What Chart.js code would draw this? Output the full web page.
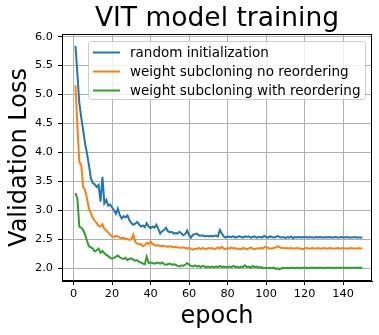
<!DOCTYPE html>
<html>
<head>
<meta charset="utf-8">
<script src="https://cdn.jsdelivr.net/npm/chart.js@4/dist/chart.umd.min.js"></script>
<style>
  html, body { margin: 0; padding: 0; background: #fff; }
</style>
</head>
<body>
<canvas id="chart" width="379" height="335"></canvas>
<script>
// Epoch numbers 1..150 (x categories)
function getEpochs(n) {
    const out = [];
    for (let i = 1; i <= n; i++) out.push(i);
    return out;
}
const epochs = getEpochs(150);

// Validation loss per epoch
const randomInit = [
    5.84, 5.35, 4.85, 4.60, 4.38, 4.15, 3.98, 3.78, 3.55, 3.47,
    3.45, 3.40, 3.44, 3.15, 3.58, 3.12, 3.18, 3.08, 3.10, 3.05,
    3.00, 2.94, 3.03, 2.92, 2.86, 2.90, 2.88, 2.91, 2.83, 2.78,
    2.75, 2.77, 2.80, 2.76, 2.72, 2.74, 2.71, 2.78, 2.72, 2.69,
    2.72, 2.70, 2.75, 2.68, 2.60, 2.64, 2.66, 2.70, 2.64, 2.62,
    2.63, 2.60, 2.61, 2.60, 2.63, 2.60, 2.57, 2.59, 2.65, 2.57,
    2.53, 2.58, 2.59, 2.60, 2.57, 2.56, 2.57, 2.55, 2.56, 2.55,
    2.56, 2.55, 2.56, 2.56, 2.55, 2.66, 2.60, 2.55, 2.53, 2.55,
    2.54, 2.54, 2.55, 2.53, 2.54, 2.55, 2.54, 2.53, 2.55, 2.54,
    2.55, 2.53, 2.54, 2.55, 2.53, 2.54, 2.54, 2.53, 2.56, 2.54,
    2.53, 2.55, 2.54, 2.53, 2.54, 2.56, 2.54, 2.53, 2.54, 2.52,
    2.54, 2.53, 2.55, 2.52, 2.54, 2.53, 2.54, 2.53, 2.54, 2.53,
    2.54, 2.53, 2.54, 2.53, 2.53, 2.54, 2.53, 2.54, 2.53, 2.53,
    2.54, 2.53, 2.54, 2.53, 2.53, 2.54, 2.53, 2.53, 2.54, 2.53,
    2.53, 2.54, 2.53, 2.53, 2.53, 2.54, 2.53, 2.53, 2.53, 2.53
];
const noReorder = [
    5.16, 4.45, 3.84, 3.78, 3.40, 3.35, 3.20, 3.03, 2.95, 2.87,
    2.82, 2.78, 2.73, 2.72, 2.76, 2.68, 2.65, 2.62, 2.58, 2.55,
    2.54, 2.56, 2.55, 2.53, 2.52, 2.53, 2.50, 2.51, 2.49, 2.50,
    2.58, 2.46, 2.43, 2.41, 2.42, 2.38, 2.40, 2.44, 2.42, 2.46,
    2.42, 2.40, 2.39, 2.40, 2.38, 2.39, 2.38, 2.38, 2.37, 2.38,
    2.37, 2.36, 2.37, 2.36, 2.36, 2.35, 2.36, 2.35, 2.34, 2.36,
    2.33, 2.32, 2.34, 2.33, 2.35, 2.33, 2.35, 2.34, 2.33, 2.35,
    2.34, 2.35, 2.33, 2.34, 2.36, 2.34, 2.37, 2.34, 2.33, 2.35,
    2.34, 2.36, 2.34, 2.35, 2.33, 2.34, 2.33, 2.35, 2.34, 2.33,
    2.34, 2.36, 2.34, 2.33, 2.34, 2.34, 2.35, 2.34, 2.36, 2.37,
    2.35, 2.34, 2.34, 2.35, 2.36, 2.38, 2.36, 2.35, 2.35, 2.34,
    2.35, 2.34, 2.35, 2.34, 2.34, 2.35, 2.34, 2.34, 2.33, 2.34,
    2.35, 2.34, 2.34, 2.35, 2.34, 2.34, 2.35, 2.34, 2.34, 2.35,
    2.34, 2.34, 2.35, 2.34, 2.34, 2.34, 2.35, 2.34, 2.34, 2.35,
    2.34, 2.34, 2.34, 2.35, 2.34, 2.34, 2.34, 2.35, 2.34, 2.34
];
const withReorder = [
    3.30, 3.20, 2.72, 2.70, 2.66, 2.58, 2.47, 2.38, 2.36, 2.34,
    2.29, 2.31, 2.34, 2.27, 2.30, 2.26, 2.23, 2.21, 2.18, 2.17,
    2.18, 2.20, 2.22, 2.19, 2.17, 2.16, 2.18, 2.14, 2.16, 2.17,
    2.15, 2.13, 2.14, 2.11, 2.10, 2.08, 2.07, 2.20, 2.09, 2.10,
    2.09, 2.08, 2.09, 2.10, 2.08, 2.10, 2.07, 2.06, 2.07, 2.08,
    2.06, 2.07, 2.06, 2.04, 2.03, 2.05, 2.04, 2.06, 2.09, 2.06,
    2.04, 2.03, 2.05, 2.03, 2.04, 2.02, 2.04, 2.03, 2.02, 2.03,
    2.02, 2.03, 2.02, 2.03, 2.02, 2.04, 2.02, 2.03, 2.02, 2.02,
    2.03, 2.02, 2.04, 2.02, 2.03, 2.01, 2.03, 2.02, 2.05, 2.02,
    2.03, 2.01, 2.04, 2.02, 2.03, 2.01, 2.02, 2.01, 2.00, 2.01,
    2.00, 2.01, 2.00, 2.01, 1.99, 2.00, 1.98, 2.00, 2.01, 2.00,
    2.01, 2.00, 2.01, 2.01, 2.00, 2.01, 2.01, 2.00, 2.01, 2.01,
    2.01, 2.00, 2.01, 2.01, 2.01, 2.00, 2.01, 2.01, 2.01, 2.00,
    2.01, 2.01, 2.01, 2.01, 2.00, 2.01, 2.01, 2.01, 2.01, 2.01,
    2.01, 2.01, 2.00, 2.01, 2.01, 2.01, 2.01, 2.01, 2.01, 2.01
];

// Tick values
const xTicks = [0, 20, 40, 60, 80, 100, 120, 140];
const yTicks = [2.0, 2.5, 3.0, 3.5, 4.0, 4.5, 5.0, 5.5, 6.0];

const seriesNames = [
    'random initialization',
    'weight subcloning no reordering',
    'weight subcloning with reordering'
];
const seriesColors = ['#1f77b4', '#ff7f0e', '#2ca02c'];
const seriesValues = [randomInit, noReorder, withReorder];

const FONT = "'DejaVu Sans', sans-serif";

// Draw the top/right spines and the boxed legend in the upper right
const frameAndLegend = {
    id: 'frameAndLegend',
    afterDatasetsDraw(chart) {
        const { ctx, chartArea: a } = chart;
        ctx.save();

        // legend
        const boxRight = a.right - 7, boxTop = a.top + 7;
        const boxW = 277, boxH = 58;
        const boxLeft = boxRight - boxW;
        ctx.beginPath();
        if (ctx.roundRect) ctx.roundRect(boxLeft + 0.5, boxTop + 0.5, boxW, boxH, 3);
        else ctx.rect(boxLeft + 0.5, boxTop + 0.5, boxW, boxH);
        ctx.fillStyle = 'rgba(255,255,255,0.8)';
        ctx.fill();
        ctx.strokeStyle = '#cccccc';
        ctx.lineWidth = 1;
        ctx.stroke();

        ctx.font = '13.5px ' + FONT;
        ctx.textBaseline = 'middle';
        ctx.textAlign = 'left';
        chart.data.datasets.forEach((ds, i) => {
            const y = boxTop + 11.5 + i * 19;
            ctx.strokeStyle = ds.borderColor;
            ctx.lineWidth = 2;
            ctx.beginPath();
            ctx.moveTo(boxLeft + 5, y);
            ctx.lineTo(boxLeft + 32, y);
            ctx.stroke();
            ctx.fillStyle = '#000';
            ctx.fillText(ds.label, boxLeft + 42, y + 1);
        });

        // spines
        ctx.strokeStyle = '#000';
        ctx.lineWidth = 1;
        ctx.strokeRect(Math.round(a.left) + 0.5, Math.round(a.top) + 0.5,
            Math.round(a.right - a.left) - 1, Math.round(a.bottom - a.top) - 1);
        ctx.restore();
    }
};

const ctx = document.getElementById('chart').getContext('2d');
new Chart(ctx, {
    type: 'line',
    data: {
        datasets: seriesValues.map((vals, i) => ({
            label: seriesNames[i],
            data: epochs.map((e, j) => ({ x: e, y: vals[j] })),
            borderColor: seriesColors[i],
            backgroundColor: seriesColors[i],
            borderWidth: 2,
            pointRadius: 0,
            tension: 0,
            fill: false
        }))
    },
    options: {
        responsive: false,
        animation: false,
        devicePixelRatio: 1,
        layout: { padding: { top: 0, left: 0, right: 7, bottom: 0 } },
        plugins: {
            legend: { display: false },
            tooltip: { enabled: false },
            title: {
                display: true,
                text: 'VIT model training',
                fullSize: false,
                color: '#000',
                font: { family: FONT, size: 26.5, weight: 'normal', lineHeight: '30px' },
                padding: { top: 4, bottom: 0 }
            }
        },
        scales: {
            x: {
                type: 'linear',
                min: -6,
                max: 155,
                afterBuildTicks: axis => { axis.ticks = xTicks.map(v => ({ value: v })); },
                afterFit: axis => { axis.height = 54; },
                grid: { color: '#b0b0b0', lineWidth: 1, tickColor: '#000', tickLength: 4 },
                border: { color: '#000' },
                ticks: { color: '#000', font: { family: FONT, size: 11.3 }, padding: 2, maxRotation: 0 },
                title: {
                    display: true, text: 'epoch', color: '#000',
                    font: { family: FONT, size: 24 }, padding: { top: 0, bottom: 4 }
                }
            },
            y: {
                min: 1.78,
                max: 6.045,
                afterBuildTicks: axis => { axis.ticks = yTicks.map(v => ({ value: v })); },
                afterFit: axis => { axis.width = 62; },
                grid: { color: '#b0b0b0', lineWidth: 1, tickColor: '#000', tickLength: 4 },
                border: { color: '#000' },
                ticks: {
                    color: '#000', font: { family: FONT, size: 11.3 }, padding: 5,
                    callback: v => v.toFixed(1)
                },
                title: {
                    display: true, text: 'Validation Loss', color: '#000',
                    font: { family: FONT, size: 24 }, padding: { top: 5, bottom: 0 }
                }
            }
        }
    },
    plugins: [frameAndLegend]
});
</script>
</body>
</html>
